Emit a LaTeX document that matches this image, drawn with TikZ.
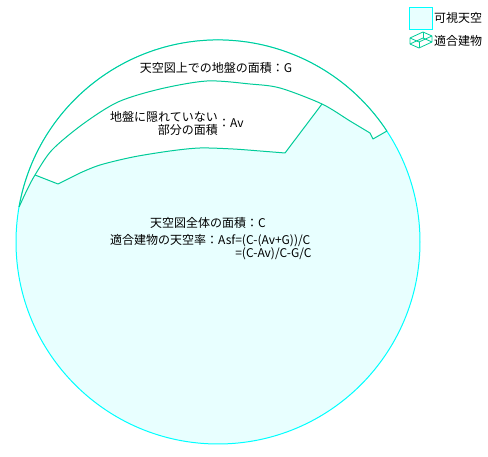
\documentclass[tikz,border=0pt]{standalone}
\usepackage{fontspec}
\setmainfont{Noto Sans CJK JP}
\usetikzlibrary{positioning}
\definecolor{skyline}{RGB}{0,255,255}
\definecolor{groundline}{RGB}{0,204,153}
\definecolor{skyfill}{RGB}{232,255,255}

\begin{document}
\begin{tikzpicture}[x=1pt, y=1pt,
	skyedge/.style={draw=skyline, line width=1pt},
	groundedge/.style={draw=groundline, line width=1pt, line join=round},
	txt/.style={inner sep=0pt, font=\fontsize{12}{13}\selectfont}]
	\useasboundingbox (0,0) rectangle (488,457);

	% sky disc
	\filldraw[fill=skyfill, skyedge] (218,215) circle[radius=202pt];
	% ground band and uncovered strip stay white
	\fill[white] (19.1,250.1) arc[start angle=170, end angle=33.3, radius=202pt]
		-- (373,318) -- (370,324)
		-- plot[smooth] coordinates {(370,324) (350,336) (322,353)}
		-- (285,304)
		-- plot[smooth] coordinates {(285,304) (260,306) (233,308) (200,309) (170,306) (133,300) (100,292) (80,284)}
		-- (58,273) -- (35,282)
		-- plot[smooth] coordinates {(35,282) (27,267) (19.1,250.1)}
		-- cycle;

	% outlines
	\draw[groundedge] (19.1,250.1) arc[start angle=170, end angle=33.3, radius=202pt];
	\draw[groundedge] plot[smooth] coordinates {(19.1,250.1) (27,267) (35,282) (52,307) (83,333) (118,355) (160,368) (207,376) (250,373) (280,369) (322,353) (350,336) (370,324)} -- (373,318) -- (387,326);
	\draw[groundedge] (35,282) -- (58,273) -- (80,284) -- plot[smooth] coordinates {(80,284) (100,292) (133,300) (170,306) (200,309) (233,308) (260,306) (285,304)} -- (322,353);

	% labels
	\node[txt] (groundtext) at (216,389) {天空図上での地盤の面積：G};
	\node[txt, align=right, anchor=east] (avtext) at (218,333.5) {地盤に隠れていない\\部分の面積};
	\node[txt, right=0pt of avtext] (avval) {：Av};
	\node[txt, anchor=west] (totaltext) at (150,234) {天空図全体の面積：C};
	\node[txt, anchor=west] (ratiotext) at (110,209.5) {\fontsize{12}{12}\selectfont\begin{tabular}{@{}r@{}l@{}}適合建物の天空率：Asf&=(C-(Av+G))/C\\&=(C-Av)/C-G/C\end{tabular}};

	% legend
	\filldraw[fill=skyfill, skyedge] (409,427) rectangle (432,449);
	\node[txt, anchor=west] (skykey) at (434,439) {可視天空};
	\draw[groundedge, line width=0.8pt] (410,413) -- (419,409) -- (432,415) -- (432,421) -- (423,425) -- (410,419) -- cycle;
	\draw[groundedge, line width=0.8pt] (410,419) -- (419,415) -- (432,421);
	\draw[groundedge, line width=0.8pt] (419,415) -- (419,409);
	\draw[groundedge, line width=0.8pt] (410,413) -- (423,419) -- (432,415);
	\draw[groundedge, line width=0.8pt] (423,419) -- (423,425);
	\node[txt, anchor=west] (bldgkey) at (434,416) {適合建物};
\end{tikzpicture}
\end{document}
